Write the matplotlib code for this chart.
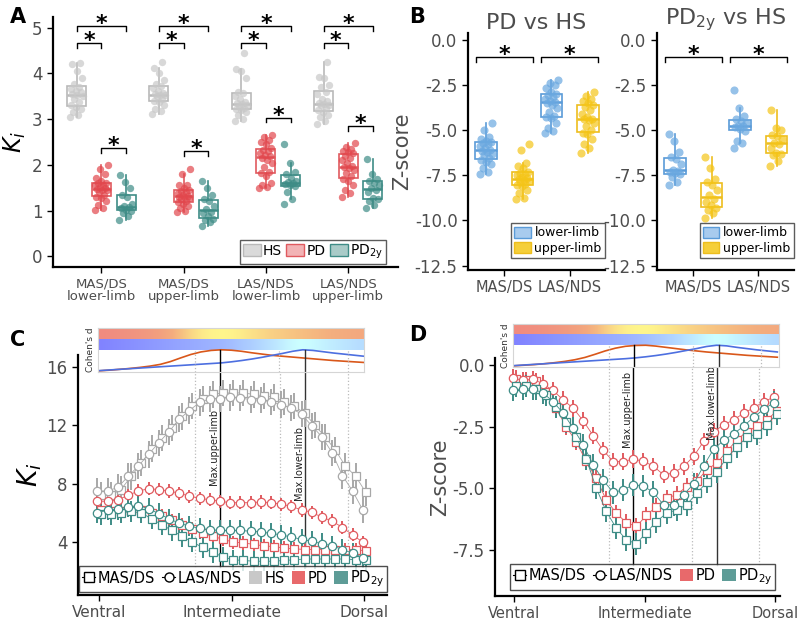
import numpy as np
import matplotlib.pyplot as plt
from matplotlib.lines import Line2D
from matplotlib.patches import Patch
from matplotlib.colors import LinearSegmentedColormap

plt.rcParams['font.family'] = 'DejaVu Sans'
plt.rcParams['axes.unicode_minus'] = False

# ---------------- panel A data (K_i per subject) ----------------
groups_a = ['MAS/DS\nlower-limb', 'MAS/DS\nupper-limb', 'LAS/NDS\nlower-limb', 'LAS/NDS\nupper-limb']
hs_ki = [
    [3.05, 3.1, 3.15, 3.22, 3.26, 3.3, 3.38, 3.45, 3.5, 3.52, 3.55, 3.6, 3.62, 3.66, 3.7, 3.78, 3.9, 4.05, 4.2, 4.22],
    [3.12, 3.18, 3.22, 3.3, 3.37, 3.4, 3.45, 3.5, 3.52, 3.53, 3.55, 3.58, 3.62, 3.68, 3.72, 3.76, 3.85, 4.02, 4.12, 4.25],
    [2.96, 3.0, 3.1, 3.15, 3.2, 3.22, 3.25, 3.28, 3.3, 3.33, 3.35, 3.38, 3.45, 3.5, 3.57, 3.6, 3.9, 4.05, 4.1, 4.45],
    [2.89, 2.95, 3.05, 3.1, 3.15, 3.2, 3.25, 3.3, 3.32, 3.33, 3.35, 3.4, 3.45, 3.55, 3.6, 3.7, 3.75, 3.9, 3.92, 4.25],
]
pd_ki = [
    [1.01, 1.05, 1.12, 1.2, 1.28, 1.3, 1.35, 1.4, 1.44, 1.46, 1.47, 1.49, 1.52, 1.55, 1.57, 1.6, 1.61, 1.65, 1.72, 1.8, 1.9, 1.99],
    [0.98, 1.0, 1.05, 1.1, 1.15, 1.19, 1.22, 1.25, 1.28, 1.3, 1.3, 1.32, 1.35, 1.38, 1.4, 1.42, 1.45, 1.5, 1.55, 1.56, 1.8, 1.92],
    [1.5, 1.52, 1.55, 1.6, 1.75, 1.82, 1.85, 1.95, 2.05, 2.1, 2.15, 2.2, 2.22, 2.25, 2.3, 2.33, 2.36, 2.45, 2.5, 2.55, 2.6, 2.65],
    [1.3, 1.38, 1.45, 1.55, 1.65, 1.7, 1.75, 1.82, 1.88, 1.93, 1.95, 1.97, 2.05, 2.1, 2.15, 2.2, 2.25, 2.28, 2.3, 2.35, 2.4, 2.47],
]
pd2y_ki = [
    [0.8, 0.88, 0.95, 1.0, 1.02, 1.05, 1.07, 1.09, 1.15, 1.3, 1.35, 1.5, 1.62, 1.78],
    [0.67, 0.75, 0.8, 0.82, 0.88, 0.95, 0.98, 1.04, 1.1, 1.2, 1.25, 1.35, 1.5, 1.65],
    [1.15, 1.25, 1.4, 1.53, 1.55, 1.58, 1.6, 1.62, 1.65, 1.72, 1.8, 1.85, 2.05, 2.45],
    [1.05, 1.12, 1.2, 1.25, 1.28, 1.4, 1.45, 1.5, 1.55, 1.6, 1.65, 1.7, 1.8, 2.13],
]

# ---------------- panel B data (Z-scores) ----------------
cats_b = ['MAS/DS', 'LAS/NDS']
z_pd_lower = [
    [-7.45, -7.3, -7.1, -6.9, -6.75, -6.65, -6.55, -6.4, -6.3, -6.2, -6.15, -6.1, -6.0, -5.9, -5.8, -5.7, -5.65, -5.6, -5.5, -5.4, -5.0, -4.6],
    [-5.15, -5.05, -4.9, -4.6, -4.35, -4.3, -4.2, -4.0, -3.8, -3.6, -3.5, -3.45, -3.4, -3.3, -3.2, -3.05, -3.0, -2.9, -2.7, -2.5, -2.4, -2.25],
]
z_pd_upper = [
    [-8.8, -8.75, -8.5, -8.3, -8.1, -8.05, -8.0, -7.9, -7.8, -7.75, -7.7, -7.68, -7.6, -7.5, -7.45, -7.35, -7.3, -7.1, -7.0, -6.8, -6.1, -5.75],
    [-6.25, -6.0, -5.8, -5.5, -5.2, -5.15, -5.0, -4.8, -4.6, -4.45, -4.4, -4.38, -4.3, -4.1, -3.9, -3.7, -3.6, -3.5, -3.4, -3.3, -3.1, -2.9],
]
z_pd2y_lower = [
    [-8.05, -7.9, -7.6, -7.45, -7.4, -7.3, -7.25, -7.2, -6.9, -6.6, -6.5, -6.2, -5.6, -5.2],
    [-6.0, -5.7, -5.6, -5.05, -4.95, -4.85, -4.78, -4.75, -4.6, -4.5, -4.4, -4.2, -3.8, -2.8],
]
z_pd2y_upper = [
    [-9.85, -9.6, -9.4, -9.3, -9.15, -9.0, -8.8, -8.6, -8.3, -8.05, -7.9, -7.7, -7.1, -6.5],
    [-7.0, -6.7, -6.4, -6.3, -6.25, -6.0, -5.75, -5.7, -5.5, -5.35, -5.3, -5.0, -4.9, -3.9],
]

# ---------------- panel C data (K_i profiles, ventral -> dorsal) ----------------
hs_mas_c = [7.2, 7.2, 7.6, 8.5, 9.4, 10.4, 11.1, 11.8, 12.6, 13.3, 13.8, 14.1, 14.2, 14.2, 14.2, 14.1, 14.0, 13.9, 13.6,
            13.3, 12.8, 12.0, 11.2, 10.3, 9.2, 8.5, 7.4]
hs_las_c = [7.5, 7.5, 7.75, 8.5, 9.2, 10.0, 10.8, 11.55, 12.4, 13.0, 13.55, 13.8, 13.8, 13.9, 13.85, 13.75, 13.7, 13.6,
            13.4, 13.15, 12.75, 11.95, 11.2, 10.1, 8.55, 7.5, 6.2]
pd_mas_c = [6.2, 6.1, 6.1, 6.2, 6.2, 6.0, 5.8, 5.5, 5.2, 4.9, 4.6, 4.4, 4.2, 4.0, 3.95, 3.85, 3.75, 3.7, 3.6, 3.55,
            3.5, 3.5, 3.5, 3.5, 3.5, 3.5, 3.4]
pd_las_c = [6.8, 6.8, 6.9, 7.2, 7.5, 7.65, 7.6, 7.5, 7.35, 7.15, 7.0, 6.9, 6.8, 6.7, 6.7, 6.7, 6.75, 6.7, 6.6, 6.45,
            6.2, 6.05, 5.7, 5.45, 5.0, 4.5, 4.0]
pd2y_mas_c = [5.9, 5.9, 6.0, 6.1, 6.0, 5.6, 5.2, 4.8, 4.4, 4.0, 3.65, 3.3, 3.0, 2.8, 2.75, 2.7, 2.7, 2.7, 2.75, 2.8,
              2.85, 2.85, 2.85, 2.85, 2.85, 2.8, 2.75]
pd2y_las_c = [6.0, 6.2, 6.25, 6.4, 6.5, 6.3, 5.95, 5.6, 5.3, 5.1, 4.95, 4.85, 4.8, 4.8, 4.8, 4.75, 4.7, 4.6, 4.5, 4.35,
              4.2, 4.05, 3.9, 3.75, 3.5, 3.25, 2.95]
err_c = [0.9, 0.45, 0.7]  # HS, PD, PD2y

# ---------------- panel D data (Z-score profiles) ----------------
pd_mas_d = [-0.55, -0.60, -0.65, -1.10, -1.74, -2.49, -3.10, -3.90, -4.60, -5.47, -6.01, -6.40, -6.55, -6.10, -5.74,
            -5.40, -5.26, -4.93, -4.72, -4.25, -3.97, -3.50, -3.03, -2.69, -2.48, -2.21, -1.85]
pd_las_d = [-0.51, -0.61, -0.56, -0.75, -1.02, -1.40, -1.74, -2.25, -2.86, -3.46, -3.91, -3.91, -3.81, -3.90, -4.10,
            -4.45, -4.38, -4.11, -3.70, -3.09, -2.69, -2.42, -2.21, -1.94, -1.72, -1.47, -1.29]
pd2y_mas_d = [-0.85, -0.85, -0.95, -1.20, -1.70, -2.30, -2.90, -3.80, -4.99, -5.94, -6.62, -7.10, -7.25, -6.80, -6.35,
              -6.01, -5.88, -5.67, -5.20, -4.76, -4.32, -3.77, -3.32, -2.92, -2.78, -2.41, -1.97]
pd2y_las_d = [-0.99, -0.96, -0.96, -1.12, -1.47, -1.94, -2.55, -3.23, -4.04, -4.68, -5.17, -5.06, -4.86, -4.90, -5.17,
              -5.67, -5.67, -5.26, -4.82, -4.08, -3.40, -3.05, -2.78, -2.46, -2.10, -1.78, -1.51]
err_d = [0.35, 0.45]  # PD, PD2y

# Cohen's d profiles (relative), upper-limb (orange) and lower-limb (blue)
cohen_up_c = [0.02, 0.05, 0.09, 0.13, 0.18, 0.24, 0.32, 0.45, 0.62, 0.78, 0.90, 0.97, 1.0, 0.98, 0.93, 0.86, 0.80,
              0.74, 0.70, 0.66, 0.62, 0.58, 0.54, 0.50, 0.47, 0.44, 0.41]
cohen_low_c = [0.03, 0.06, 0.09, 0.12, 0.15, 0.18, 0.21, 0.24, 0.27, 0.30, 0.33, 0.36, 0.39, 0.44, 0.50, 0.57, 0.65,
               0.74, 0.83, 0.93, 1.0, 0.97, 0.91, 0.85, 0.80, 0.75, 0.70]
cohen_up_d = [0.02, 0.05, 0.08, 0.12, 0.17, 0.23, 0.31, 0.42, 0.57, 0.73, 0.86, 0.95, 0.99, 1.0, 0.96, 0.90, 0.84,
              0.78, 0.73, 0.68, 0.64, 0.60, 0.56, 0.52, 0.49, 0.46, 0.43]
cohen_low_d = [0.03, 0.06, 0.09, 0.12, 0.15, 0.18, 0.21, 0.24, 0.27, 0.30, 0.33, 0.36, 0.40, 0.45, 0.51, 0.58, 0.66,
               0.75, 0.84, 0.94, 1.0, 0.97, 0.90, 0.84, 0.78, 0.73, 0.68]
max_upper = 11.85
max_lower = 20.2
dotted_x = [9.4, 17.7, 24.4]

# colours
c_hs, c_pd, c_pd2y = '#B9B9B9', '#E05A5F', '#3E8C86'
p_hs, p_pd, p_pd2y = '#C8C8C8', '#E2474D', '#3E8C86'
c_low, c_up = '#5A9BD8', '#EDBE1E'
txt = '#4D4D4D'
sub2y = 'PD$_{\\mathregular{2y}}$'


def jitter(n, w):
    return w * 2 * (((np.arange(n) * 0.618034) % 1.0) - 0.5)


def style(ax):
    for s in ['top', 'right']:
        ax.spines[s].set_visible(False)
    for s in ['left', 'bottom']:
        ax.spines[s].set_linewidth(1.6)
    ax.tick_params(width=1, length=4, colors='black', labelcolor=txt, labelsize=12)


def boxes(ax, data, pos, col, pcol, width, jw, s):
    ax.boxplot(data, positions=pos, widths=width, showcaps=False, showfliers=False, patch_artist=True,
               manage_ticks=False,
               medianprops=dict(color=col, lw=1.8), boxprops=dict(facecolor='none', edgecolor=col, lw=1.2),
               whiskerprops=dict(color=col, lw=1.2))
    for p, vals in zip(pos, data):
        ax.scatter(p + jitter(len(vals), jw), vals, s=s, color=pcol, alpha=0.7, lw=0, zorder=3)


def bracket(ax, x0, x1, y, tick, star_dy):
    ax.plot([x0, x0, x1, x1], [y - tick, y, y, y - tick], color='black', lw=1)
    ax.text((x0 + x1) / 2, y + star_dy, '*', ha='center', va='center', fontsize=16, fontweight='bold')


fig = plt.figure(figsize=(8, 6.22), dpi=100)

# ---------------- A ----------------
axA = fig.add_axes([0.066, 0.571, 0.431, 0.402])
xa = np.arange(1, 5)
offs = [-0.3, 0.0, 0.3]
boxes(axA, hs_ki, xa + offs[0], c_hs, p_hs, 0.23, 0.08, 28)
boxes(axA, pd_ki, xa + offs[1], c_pd, p_pd, 0.23, 0.08, 28)
boxes(axA, pd2y_ki, xa + offs[2], c_pd2y, p_pd2y, 0.23, 0.08, 28)
for g in range(4):
    bracket(axA, xa[g] + offs[0], xa[g] + offs[1], 4.66, 0.1, 0.04)
    bracket(axA, xa[g] + offs[0], xa[g] + offs[2], 5.04, 0.1, 0.04)
    ytop = max(max(pd_ki[g]), max(pd2y_ki[g])) + 0.38
    bracket(axA, xa[g] + offs[1], xa[g] + offs[2], ytop, 0.1, 0.04)
axA.set_xlim(0.41, 4.6)
axA.set_ylim(-0.23, 5.24)
axA.set_yticks([0, 1, 2, 3, 4, 5])
axA.set_xticks(xa)
axA.set_xticklabels(groups_a, fontsize=9.5, linespacing=1.0)
style(axA)
axA.tick_params(axis='x', labelsize=9.5)
axA.set_ylabel('$K_i$', fontsize=17, color='black')
axA.yaxis.set_label_coords(-0.072, 0.5)
axA.legend(handles=[Patch(facecolor='#DADADA', edgecolor=c_hs, label='HS'),
                    Patch(facecolor='#F2B3B5', edgecolor=c_pd, label='PD'),
                    Patch(facecolor='#A9CBC8', edgecolor=c_pd2y, label=sub2y)],
           loc='lower right', bbox_to_anchor=(0.965, 0.012), ncol=3, fontsize=10, frameon=True,
           fancybox=False, edgecolor='#333333', borderpad=0.2, handlelength=1.3, handleheight=1.0,
           handletextpad=0.15, columnspacing=0.3, borderaxespad=0)
fig.text(0.012, 0.988, 'A', fontsize=15, fontweight='bold', va='top')

# ---------------- B ----------------
xb = np.arange(1, 3)
for left, low, up, title in [(0.585, z_pd_lower, z_pd_upper, 'PD vs HS'),
                             (0.821, z_pd2y_lower, z_pd2y_upper, sub2y + ' vs HS')]:
    axB = fig.add_axes([left, 0.566, 0.171, 0.381])
    boxes(axB, low, xb - 0.28, c_low, '#6AA8E0', 0.33, 0.1, 34)
    boxes(axB, up, xb + 0.28, c_up, '#F5C518', 0.33, 0.1, 34)
    for g in range(2):
        bracket(axB, xb[g] - 0.44, xb[g] + 0.44, -0.96, 0.28, 0.1)
    axB.set_xlim(0.44, 2.54)
    axB.set_ylim(-12.74, 0.37)
    axB.set_yticks([0, -2.5, -5, -7.5, -10, -12.5])
    axB.set_yticklabels(['0.0', '-2.5', '-5.0', '-7.5', '-10.0', '-12.5'])
    axB.set_xticks(xb)
    axB.set_xticklabels(cats_b)
    style(axB)
    axB.tick_params(axis='x', labelsize=10.5)
    axB.set_title(title, fontsize=16, color=txt, pad=1)
    axB.legend(handles=[Patch(facecolor='#A8CBEE', edgecolor=c_low, label='lower-limb'),
                        Patch(facecolor='#F5CF3A', edgecolor=c_up, label='upper-limb')],
               loc='lower right', bbox_to_anchor=(1.0, 0.05), fontsize=9, fancybox=False,
               edgecolor='#333333', borderpad=0.25, handlelength=1.3, handleheight=1.0,
               handletextpad=0.3, labelspacing=0.2, borderaxespad=0)
    if left < 0.7:
        axB.set_ylabel('Z-score', fontsize=15, color=txt, labelpad=2)
fig.text(0.512, 0.988, 'B', fontsize=15, fontweight='bold', va='top')

# ---------------- C / D ----------------
x = np.arange(27)
cm_top = LinearSegmentedColormap.from_list('top', ['#F08A80', '#F4AF7E', '#FFF68C'])
cm_bot = LinearSegmentedColormap.from_list('bot', ['#7F80FF', '#A8C6FF', '#CCFFFF'])


def profile(ax, mas, las, err, col):
    ax.errorbar(x + 0.15, mas, yerr=err, fmt='-s', color=col, mfc='white', mec=col, ms=5.5, mew=0.9,
                lw=0.6, elinewidth=1.4, capsize=0, zorder=3)
    ax.errorbar(x - 0.15, las, yerr=err, fmt='-o', color=col, mfc='white', mec=col, ms=6, mew=0.9,
                lw=0.6, elinewidth=1.4, capsize=0, zorder=3)


def cohen_inset(rect, xlim, up, low):
    ins = fig.add_axes(rect)
    ins.imshow(cm_top(np.asarray(up))[np.newaxis], extent=(xlim[0], xlim[1], 1.5, 2.0), aspect='auto',
               interpolation='bilinear')
    ins.imshow(cm_bot(np.asarray(low))[np.newaxis], extent=(xlim[0], xlim[1], 1.0, 1.5), aspect='auto',
               interpolation='bilinear')
    ins.plot(x, up, color='#D9571A', lw=1.2)
    ins.plot(x, low, color='#4D6FE0', lw=1.2)
    for xv in dotted_x:
        ins.axvline(xv, ymin=0, ymax=0.5, color='#BBBBBB', lw=0.9, ls=':')
    ins.axvline(max_upper, ymin=0, ymax=0.5, color='black', lw=1)
    ins.axvline(max_lower, ymin=0, ymax=0.5, color='#333333', lw=1)
    ins.set_xlim(xlim)
    ins.set_ylim(-0.02, 2.0)
    ins.set_xticks([])
    ins.set_yticks([])
    for s in ins.spines.values():
        s.set_color('#D5D5D5')
        s.set_linewidth(0.8)
    ins.text(-0.012, 0.5, "Cohen's d", transform=ins.transAxes, rotation=90, ha='right', va='center',
             fontsize=6.5, color='#333333')


def markers_lines(ax, ybot, ytop, ytxt_up, ytxt_low):
    for xv in dotted_x:
        ax.plot([xv, xv], [ybot, ytop], color='#BBBBBB', lw=0.9, ls=':', zorder=1)
    ax.plot([max_upper, max_upper], [ybot, ytop], color='black', lw=1, zorder=2)
    ax.plot([max_lower, max_lower], [ybot, ytop], color='#333333', lw=1, zorder=2)
    ax.text(max_upper - 0.1, ytxt_up, 'Max.upper-limb', rotation=90, ha='right', va='bottom', fontsize=7,
            color='#222222', zorder=4)
    ax.text(max_lower - 0.1, ytxt_low, 'Max.lower-limb', rotation=90, ha='right', va='bottom', fontsize=7,
            color='#222222', zorder=4)


def shape_handles():
    return [Line2D([], [], color='black', lw=0.8, marker='s', mfc='white', mec='black', ms=6.5, label='MAS/DS'),
            Line2D([], [], color='black', lw=0.8, marker='o', mfc='white', mec='black', ms=6.5, label='LAS/NDS')]


leg_kw = dict(fontsize=10.5, fancybox=False, edgecolor='#222222', borderpad=0.2, handlelength=0.9,
              handleheight=0.9, handletextpad=0.15, columnspacing=0.5, borderaxespad=0)

# C
axC = fig.add_axes([0.0975, 0.0434, 0.386, 0.386])
markers_lines(axC, 2.3, 16.8, 7.9, 6.9)
profile(axC, hs_mas_c, hs_las_c, err_c[0], '#A8A8A8')
profile(axC, pd_mas_c, pd_las_c, err_c[1], c_pd)
profile(axC, pd2y_mas_c, pd2y_las_c, err_c[2], c_pd2y)
axC.set_xlim(-2.06, 28.2)
axC.set_ylim(0.39, 16.8)
axC.set_yticks([4, 8, 12, 16])
axC.set_xticks([0, 13, 26])
axC.set_xticklabels(['Ventral', 'Intermediate', 'Dorsal'])
style(axC)
axC.tick_params(axis='x', labelsize=11)
axC.set_ylabel('$K_i$', fontsize=19, color='black', labelpad=2)
axC.legend(handles=shape_handles() + [Patch(facecolor='#C8C8C8', label='HS'),
                                      Patch(facecolor='#E8696B', label='PD'),
                                      Patch(facecolor='#5E9C97', label=sub2y)],
           loc='lower center', bbox_to_anchor=(0.503, 0.012), ncol=5, **leg_kw)
cohen_inset([0.1229, 0.4024, 0.332, 0.0698], (-0.07, 26.0), cohen_up_c, cohen_low_c)
fig.text(0.012, 0.47, 'C', fontsize=15, fontweight='bold', va='top')

# D
axD = fig.add_axes([0.619, 0.0418, 0.356, 0.383])
markers_lines(axD, -8.1, 0.31, -3.3, -3.0)
profile(axD, pd_mas_d, pd_las_d, err_d[0], c_pd)
profile(axD, pd2y_mas_d, pd2y_las_d, err_d[1], c_pd2y)
axD.set_xlim(-1.91, 26.45)
axD.set_ylim(-9.38, 0.31)
axD.set_yticks([0, -2.5, -5, -7.5])
axD.set_yticklabels(['0.0', '-2.5', '-5.0', '-7.5'])
axD.set_xticks([0, 13, 26])
axD.set_xticklabels(['Ventral', 'Intermediate', 'Dorsal'])
style(axD)
axD.tick_params(axis='x', labelsize=10.5)
axD.set_ylabel('Z-score', fontsize=15, color=txt, labelpad=2)
axD.legend(handles=shape_handles() + [Patch(facecolor='#E8696B', label='PD'),
                                      Patch(facecolor='#5E9C97', label=sub2y)],
           loc='lower center', bbox_to_anchor=(0.518, 0.025), ncol=4, **leg_kw)
cohen_inset([0.6416, 0.4105, 0.3326, 0.0682], (-0.08, 26.2), cohen_up_d, cohen_low_d)
fig.text(0.512, 0.478, 'D', fontsize=15, fontweight='bold', va='top')

fig.savefig('out.png', dpi=100)
